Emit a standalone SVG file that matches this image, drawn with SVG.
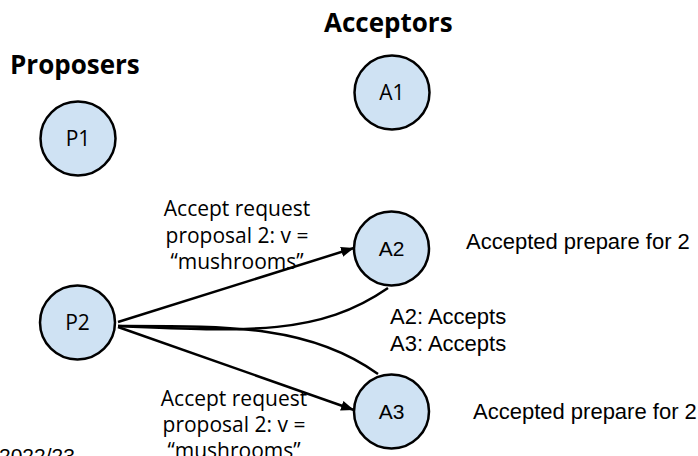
<svg xmlns="http://www.w3.org/2000/svg" width="698" height="456" viewBox="0 0 698 456">
<style>
.node ellipse{fill:#cfe2f3;stroke:#000;stroke-width:2.5}
.nl{font-family:"Open Sans","DejaVu Sans",sans-serif;font-size:21px;text-anchor:middle;fill:#000}
.al{font-family:"Liberation Sans",Arial,sans-serif;font-size:21px;text-anchor:middle;fill:#000}
.title{font-family:"Open Sans","DejaVu Sans",sans-serif;font-weight:bold;font-size:26px;fill:#000}
.lbl{font-family:"Open Sans","DejaVu Sans",sans-serif;font-size:21px;text-anchor:middle;fill:#000}
.txt{font-family:"Liberation Sans",Arial,sans-serif;font-size:22px;fill:#000}
.edge{fill:none;stroke:#000;stroke-width:2.5}
</style>
<defs>
<marker id="arr" markerUnits="userSpaceOnUse" markerWidth="14" markerHeight="12" refX="13" refY="5" orient="auto">
<path d="M0,0 L13,5 L0,10 z" fill="#000"/>
</marker>
</defs>
<rect width="698" height="456" fill="#fff"/>
<text class="title" x="10" y="74">Proposers</text>
<text class="title" x="324" y="32">Acceptors</text>
<g id="connectors">
<line class="edge" x1="118" y1="322" x2="354" y2="248" marker-end="url(#arr)"/>
<line class="edge" x1="118" y1="327" x2="354" y2="410" marker-end="url(#arr)"/>
<path class="edge" d="M118,326 C250,332 320,335 388,288"/>
<path class="edge" d="M118,326 C230,326 310,325 378,374"/>
</g>
<g id="P1" class="node"><ellipse cx="78" cy="138.5" rx="37.5" ry="37"/><text class="nl" x="78" y="146">P1</text></g>
<g id="P2" class="node"><ellipse cx="77.5" cy="322.5" rx="37.5" ry="37"/><text class="nl" x="77.5" y="330">P2</text></g>
<g id="A1" class="node"><ellipse cx="392" cy="92.5" rx="37.5" ry="37"/><text class="nl" x="392" y="100">A1</text></g>
<g id="A2" class="node"><ellipse cx="391.5" cy="248.5" rx="37.5" ry="37"/><text class="al" x="391.5" y="256">A2</text></g>
<g id="A3" class="node"><ellipse cx="391.5" cy="411.5" rx="37.5" ry="37"/><text class="al" x="391.5" y="419">A3</text></g>
<text class="lbl" x="237" y="216">Accept request</text>
<text class="lbl" x="237" y="243">proposal 2: v =</text>
<text class="lbl" x="237" y="269">“mushrooms”</text>
<text class="lbl" x="234" y="406">Accept request</text>
<text class="lbl" x="234" y="432">proposal 2: v =</text>
<text class="lbl" x="234" y="458">“mushrooms”</text>
<text class="txt" x="466" y="249">Accepted prepare for 2</text>
<text class="txt" x="473" y="419">Accepted prepare for 2</text>
<text class="txt" x="390" y="324">A2: Accepts</text>
<text class="txt" x="390" y="351">A3: Accepts</text>
<text class="txt" x="-1" y="463" style="font-size:21px">2022/23</text>
</svg>
